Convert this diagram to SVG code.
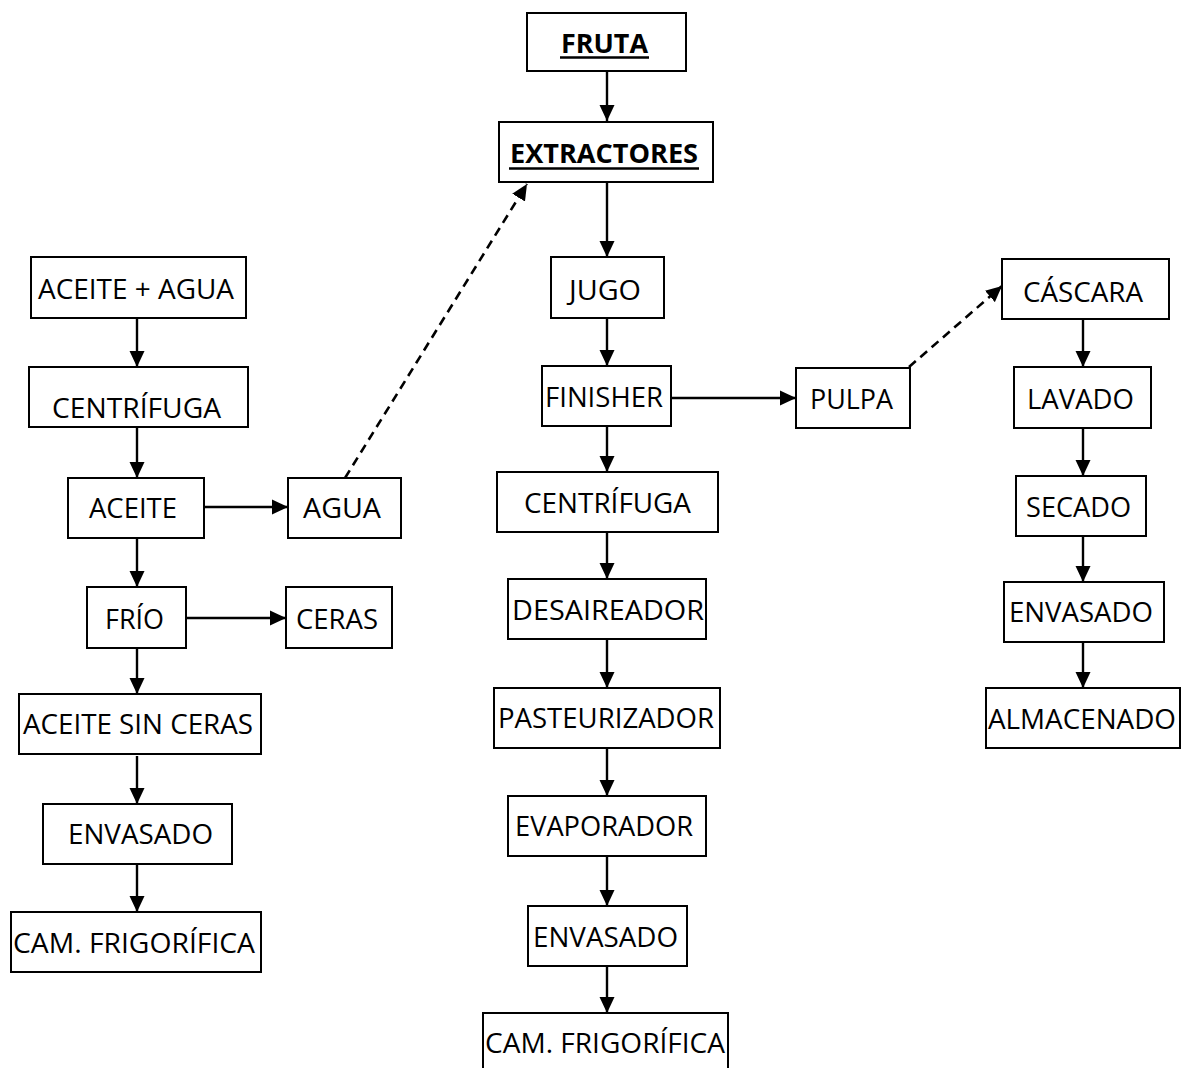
<svg xmlns="http://www.w3.org/2000/svg" width="1183" height="1068" viewBox="0 0 1183 1068">
  <style>
    .box { fill: #ffffff; stroke: #000000; stroke-width: 2; }
    .lbl { font-family: "Open Sans", "Noto Sans", "Liberation Sans", sans-serif; font-size: 26.5px; fill: #000000; }
    .ttl { font-family: "Open Sans", "Noto Sans", "Liberation Sans", sans-serif; font-size: 26px; font-weight: bold; fill: #000000; }
    .uline { stroke: #000000; stroke-width: 2.6; }
    .flow { stroke: #000000; stroke-width: 2.4; fill: none; }
    .dash { stroke: #000000; stroke-width: 2.6; fill: none; stroke-dasharray: 9 6; }
  </style>
  <defs>
    <marker id="arrow" markerUnits="userSpaceOnUse" markerWidth="16" markerHeight="16" viewBox="0 0 16 16" refX="16" refY="8" orient="auto">
      <path d="M0,0.5 L16,8 L0,15.5 Z" fill="#000000"/>
    </marker>
  </defs>
  <rect width="1183" height="1068" fill="#ffffff"/>

  <!-- connectors -->
  <g id="connectors">
    <!-- main line -->
    <line class="flow" x1="607" y1="72" x2="607" y2="121" marker-end="url(#arrow)"/>
    <line class="flow" x1="607" y1="182" x2="607" y2="257" marker-end="url(#arrow)"/>
    <line class="flow" x1="607" y1="318" x2="607" y2="366" marker-end="url(#arrow)"/>
    <line class="flow" x1="607" y1="426" x2="607" y2="472" marker-end="url(#arrow)"/>
    <line class="flow" x1="607" y1="532" x2="607" y2="579" marker-end="url(#arrow)"/>
    <line class="flow" x1="607" y1="639" x2="607" y2="688" marker-end="url(#arrow)"/>
    <line class="flow" x1="607" y1="748" x2="607" y2="796" marker-end="url(#arrow)"/>
    <line class="flow" x1="607" y1="856" x2="607" y2="906" marker-end="url(#arrow)"/>
    <line class="flow" x1="607" y1="966" x2="607" y2="1013" marker-end="url(#arrow)"/>
    <line class="flow" x1="671" y1="398" x2="796" y2="398" marker-end="url(#arrow)"/>
    <!-- oil line -->
    <line class="flow" x1="137" y1="318" x2="137" y2="367" marker-end="url(#arrow)"/>
    <line class="flow" x1="137" y1="427" x2="137" y2="478" marker-end="url(#arrow)"/>
    <line class="flow" x1="137" y1="538" x2="137" y2="587" marker-end="url(#arrow)"/>
    <line class="flow" x1="137" y1="648" x2="137" y2="694" marker-end="url(#arrow)"/>
    <line class="flow" x1="137" y1="756" x2="137" y2="804" marker-end="url(#arrow)"/>
    <line class="flow" x1="137" y1="864" x2="137" y2="912" marker-end="url(#arrow)"/>
    <line class="flow" x1="205" y1="507" x2="288" y2="507" marker-end="url(#arrow)"/>
    <line class="flow" x1="186" y1="618" x2="286" y2="618" marker-end="url(#arrow)"/>
    <!-- peel line -->
    <line class="flow" x1="1083" y1="319" x2="1083" y2="367" marker-end="url(#arrow)"/>
    <line class="flow" x1="1083" y1="428" x2="1083" y2="476" marker-end="url(#arrow)"/>
    <line class="flow" x1="1083" y1="536" x2="1083" y2="582" marker-end="url(#arrow)"/>
    <line class="flow" x1="1083" y1="642" x2="1083" y2="688" marker-end="url(#arrow)"/>
    <!-- recycled streams -->
    <line class="dash" x1="345" y1="478" x2="527" y2="184" marker-end="url(#arrow)"/>
    <line class="dash" x1="909" y1="367" x2="1002" y2="286" marker-end="url(#arrow)"/>
  </g>

  <!-- main line nodes -->
  <g id="fruta">
    <rect class="box" x="527" y="13" width="159" height="58"/>
    <text class="ttl" x="561" y="53" textLength="87" lengthAdjust="spacingAndGlyphs">FRUTA</text>
    <line class="uline" x1="560" y1="57.5" x2="649" y2="57.5"/>
  </g>
  <g id="extractores">
    <rect class="box" x="499" y="122" width="214" height="60"/>
    <text class="ttl" x="510" y="163" textLength="188" lengthAdjust="spacingAndGlyphs">EXTRACTORES</text>
    <line class="uline" x1="509" y1="168.5" x2="699" y2="168.5"/>
  </g>
  <g id="jugo">
    <rect class="box" x="551" y="257" width="113" height="61"/>
    <text class="lbl" x="569" y="300" textLength="72" lengthAdjust="spacingAndGlyphs">JUGO</text>
  </g>
  <g id="finisher">
    <rect class="box" x="542" y="366" width="129" height="60"/>
    <text class="lbl" x="545" y="407" textLength="118" lengthAdjust="spacingAndGlyphs">FINISHER</text>
  </g>
  <g id="pulpa">
    <rect class="box" x="796" y="368" width="114" height="60"/>
    <text class="lbl" x="810" y="409" textLength="83" lengthAdjust="spacingAndGlyphs">PULPA</text>
  </g>
  <g id="centrifuga-jugo">
    <rect class="box" x="497" y="472" width="221" height="60"/>
    <text class="lbl" x="524" y="513" textLength="167" lengthAdjust="spacingAndGlyphs">CENTRÍFUGA</text>
  </g>
  <g id="desaireador">
    <rect class="box" x="508" y="579" width="198" height="60"/>
    <text class="lbl" x="512" y="620" textLength="192" lengthAdjust="spacingAndGlyphs">DESAIREADOR</text>
  </g>
  <g id="pasteurizador">
    <rect class="box" x="494" y="688" width="226" height="60"/>
    <text class="lbl" x="498" y="728" textLength="216" lengthAdjust="spacingAndGlyphs">PASTEURIZADOR</text>
  </g>
  <g id="evaporador">
    <rect class="box" x="508" y="796" width="198" height="60"/>
    <text class="lbl" x="515" y="836" textLength="178" lengthAdjust="spacingAndGlyphs">EVAPORADOR</text>
  </g>
  <g id="envasado-jugo">
    <rect class="box" x="528" y="906" width="159" height="60"/>
    <text class="lbl" x="533" y="947" textLength="145" lengthAdjust="spacingAndGlyphs">ENVASADO</text>
  </g>
  <g id="camara-jugo">
    <rect class="box" x="483" y="1013" width="245" height="70"/>
    <text class="lbl" x="485" y="1053" textLength="240" lengthAdjust="spacingAndGlyphs">CAM. FRIGORÍFICA</text>
  </g>

  <!-- oil line nodes -->
  <g id="aceite-agua">
    <rect class="box" x="31" y="257" width="215" height="61"/>
    <text class="lbl" x="38" y="299" textLength="196" lengthAdjust="spacingAndGlyphs">ACEITE + AGUA</text>
  </g>
  <g id="centrifuga-aceite">
    <rect class="box" x="29" y="367" width="219" height="60"/>
    <text class="lbl" x="52" y="418" textLength="169" lengthAdjust="spacingAndGlyphs">CENTRÍFUGA</text>
  </g>
  <g id="aceite">
    <rect class="box" x="68" y="478" width="136" height="60"/>
    <text class="lbl" x="89" y="518" textLength="88" lengthAdjust="spacingAndGlyphs">ACEITE</text>
  </g>
  <g id="agua">
    <rect class="box" x="288" y="478" width="113" height="60"/>
    <text class="lbl" x="303" y="518" textLength="78" lengthAdjust="spacingAndGlyphs">AGUA</text>
  </g>
  <g id="frio">
    <rect class="box" x="87" y="587" width="99" height="61"/>
    <text class="lbl" x="105" y="629" textLength="59" lengthAdjust="spacingAndGlyphs">FRÍO</text>
  </g>
  <g id="ceras">
    <rect class="box" x="286" y="587" width="106" height="61"/>
    <text class="lbl" x="296" y="629" textLength="82" lengthAdjust="spacingAndGlyphs">CERAS</text>
  </g>
  <g id="aceite-sin-ceras">
    <rect class="box" x="19" y="694" width="242" height="60"/>
    <text class="lbl" x="23" y="734" textLength="230" lengthAdjust="spacingAndGlyphs">ACEITE SIN CERAS</text>
  </g>
  <g id="envasado-aceite">
    <rect class="box" x="43" y="804" width="189" height="60"/>
    <text class="lbl" x="68" y="844" textLength="145" lengthAdjust="spacingAndGlyphs">ENVASADO</text>
  </g>
  <g id="camara-aceite">
    <rect class="box" x="11" y="912" width="250" height="60"/>
    <text class="lbl" x="13" y="953" textLength="242" lengthAdjust="spacingAndGlyphs">CAM. FRIGORÍFICA</text>
  </g>

  <!-- peel line nodes -->
  <g id="cascara">
    <rect class="box" x="1002" y="259" width="167" height="60"/>
    <text class="lbl" x="1023" y="302" textLength="120" lengthAdjust="spacingAndGlyphs">CÁSCARA</text>
  </g>
  <g id="lavado">
    <rect class="box" x="1014" y="367" width="137" height="61"/>
    <text class="lbl" x="1027" y="409" textLength="107" lengthAdjust="spacingAndGlyphs">LAVADO</text>
  </g>
  <g id="secado">
    <rect class="box" x="1016" y="476" width="130" height="60"/>
    <text class="lbl" x="1026" y="517" textLength="105" lengthAdjust="spacingAndGlyphs">SECADO</text>
  </g>
  <g id="envasado-cascara">
    <rect class="box" x="1004" y="582" width="160" height="60"/>
    <text class="lbl" x="1009" y="622" textLength="144" lengthAdjust="spacingAndGlyphs">ENVASADO</text>
  </g>
  <g id="almacenado">
    <rect class="box" x="986" y="688" width="194" height="60"/>
    <text class="lbl" x="988" y="729" textLength="188" lengthAdjust="spacingAndGlyphs">ALMACENADO</text>
  </g>
</svg>
